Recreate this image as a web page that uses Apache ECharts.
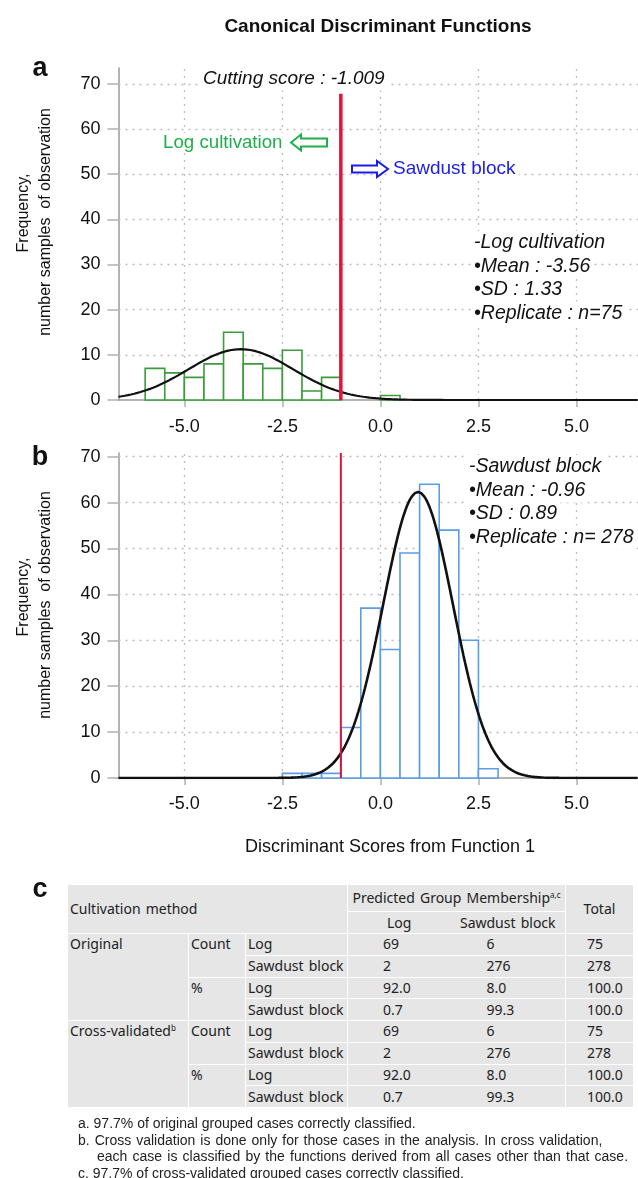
<!DOCTYPE html>
<html><head><meta charset="utf-8">
<script src="https://cdn.jsdelivr.net/npm/echarts@6/dist/echarts.min.js"></script>
<style>
html,body{margin:0;padding:0;background:#fff;width:638px;height:1178px;overflow:hidden;}
#chart{position:absolute;left:0;top:0;width:638px;height:1178px;}
#tbl{position:absolute;left:67px;top:884px;border-collapse:collapse;background:#e6e6e6;font-family:"Noto Sans",sans-serif;font-size:14px;word-spacing:1.5px;color:#222;table-layout:fixed;}
#tbl td{border:1.5px solid #fff;padding:0 0 0 2px;white-space:nowrap;vertical-align:middle;line-height:16px;overflow:visible;}
#tbl td.c5{border-left-style:hidden;}
#tbl td.ctr{text-align:center;padding:0;}
#tbl td.top{vertical-align:top;padding-top:2px;}
#tbl sup{font-size:8px;vertical-align:top;position:relative;top:-3px;word-spacing:0;}
#notes{position:absolute;left:78px;top:1115px;font-family:"Liberation Sans",Arial,sans-serif;font-size:14px;color:#222;line-height:16.7px;}
#notes div{white-space:nowrap;}
#notes div.ind{padding-left:19px;}
</style></head><body>
<div id="chart"></div>
<table id="tbl"></table>
<div id="notes"></div>
<script>
// ---- data ----
const xTicks = [-5.0, -2.5, 0.0, 2.5, 5.0];
const yTicks = [0, 10, 20, 30, 40, 50, 60, 70];
const binWidth = 0.5;
const logBinStart = [-6.0, -5.5, -5.0, -4.5, -4.0, -3.5, -3.0, -2.5, -2.0, -1.5, 0.0];
const logCounts   = [7, 6, 5, 8, 15, 8, 7, 11, 2, 5, 1];
const sawBinStart = [-2.5, -2.0, -1.5, -1.0, -0.5, 0.0, 0.5, 1.0, 1.5, 2.0, 2.5];
const sawCounts   = [1, 1, 1, 11, 37, 28, 49, 64, 54, 30, 2];
// fitted normal curves: [centre, SD, n]
const logFit = [-3.56, 1.33, 75];
const sawFit = [0.96, 0.89, 278];
const cutScore = -1.009;
const cutLineTop = [67.8, 70.8];
const statsLog = ['-Log cultivation', '\u2022Mean : -3.56', '\u2022SD : 1.33', '\u2022Replicate : n=75'];
const statsSaw = ['-Sawdust block', '\u2022Mean : -0.96', '\u2022SD : 0.89', '\u2022Replicate : n= 278'];
// table
const groupNames = ['Original', 'Cross-validated'];
const groupSup = ['', 'b'];
const kindNames = ['Count', '%'];
const rowNames = ['Log', 'Sawdust block'];
const predLog = ['69', '2', '92.0', '0.7', '69', '2', '92.0', '0.7'];
const predSaw = ['6', '276', '8.0', '99.3', '6', '276', '8.0', '99.3'];
const totals  = ['75', '278', '100.0', '100.0', '75', '278', '100.0', '100.0'];
const footnotes = [
  'a. 97.7% of original grouped cases correctly classified.',
  'b. Cross validation is done only for those cases in the analysis. In cross validation,',
  'each case is classified by the functions derived from all cases other than that case.',
  'c. 97.7% of cross-validated grouped cases correctly classified.'
];

// ---- layout ----
const xMin = -6.68, xMax = 6.57;
const yMax = [73.5, 70.8];
const FONT = '"Liberation Sans", Arial, sans-serif';

function curve(fit) {
  const pts = [];
  const k = fit[2] * binWidth / (fit[1] * Math.sqrt(2 * Math.PI));
  for (let x = xMin; x <= xMax + 1e-9; x += 0.04) {
    pts.push([x, k * Math.exp(-Math.pow(x - fit[0], 2) / (2 * fit[1] * fit[1]))]);
  }
  return pts;
}

function bars(starts, counts, color, idx) {
  return {
    type: 'custom', xAxisIndex: idx, yAxisIndex: idx, z: 2,
    data: starts.map((s, i) => [s, counts[i]]),
    renderItem: function (params, api) {
      const x0 = api.value(0), h = api.value(1);
      const p0 = api.coord([x0, h]);
      const p1 = api.coord([x0 + binWidth, 0]);
      return {
        type: 'rect',
        shape: { x: p0[0], y: p0[1], width: p1[0] - p0[0], height: p1[1] - p0[1] },
        style: { fill: '#fff', stroke: color, lineWidth: 1.6 }
      };
    }
  };
}

function gridLines(idx) {
  const segs = xTicks.map(v => ({ coords: [[v, 0], [v, yMax[idx]]] }))
    .concat(yTicks.filter(v => v > 0).map(v => ({ coords: [[xMin, v], [xMax, v]] })));
  return {
    type: 'lines', coordinateSystem: 'cartesian2d', xAxisIndex: idx, yAxisIndex: idx, z: 1, silent: true,
    polyline: false, data: segs,
    lineStyle: { color: '#bdbdbd', type: [2, 5], width: 1.3, opacity: 1 }
  };
}

function xAx(idx) {
  return {
    gridIndex: idx, type: 'value', min: xMin, max: xMax,
    axisLine: { show: true, onZero: false, lineStyle: { color: '#9a9a9a', width: 1.5 } },
    axisTick: { show: true, customValues: xTicks, length: 7, lineStyle: { color: '#b0b0b0', width: 1.5 } },
    axisLabel: { customValues: xTicks, formatter: v => v.toFixed(1), fontSize: 18, color: '#111', fontFamily: FONT, margin: idx === 0 ? 18 : 17 },
    splitLine: { show: false }
  };
}
function yAx(idx) {
  return {
    gridIndex: idx, type: 'value', min: 0, max: yMax[idx],
    axisLine: { show: true, onZero: false, lineStyle: { color: '#9a9a9a', width: 1.5 } },
    axisTick: { show: true, customValues: yTicks, length: 11, lineStyle: { color: '#b0b0b0', width: 1.5 } },
    axisLabel: { customValues: yTicks, fontSize: 18, color: '#111', fontFamily: FONT, margin: 18 },
    splitLine: { show: false }
  };
}

function txt(x, y, text, opts) {
  return { type: 'text', x: x, y: y, z: 10, style: Object.assign({ text: text, fontFamily: FONT, fontSize: 18, fill: '#111', align: 'left', verticalAlign: 'middle' }, opts || {}) };
}
function wtxt(x, y, text, opts) {
  // text on a white box (hides the grid behind it); x is where the glyphs start
  return txt(x - 3, y, text, Object.assign({ backgroundColor: '#fff', padding: [2, 3, 2, 3] }, opts || {}));
}

const graphics = [
  txt(378, 27, 'Canonical Discriminant Functions', { fontSize: 19, fontWeight: 'bold', align: 'center' }),
  txt(40, 69, 'a', { fontSize: 27, fontWeight: 'bold', align: 'center' }),
  txt(40, 458, 'b', { fontSize: 27, fontWeight: 'bold', align: 'center' }),
  txt(40, 890, 'c', { fontSize: 27, fontWeight: 'bold', align: 'center' }),
  wtxt(203, 79, 'Cutting score : -1.009', { fontSize: 19, fontStyle: 'italic' }),
  txt(285.5, 142.5, 'Log cultivation', { fontSize: 18.7, fill: '#1fae4a', align: 'right', backgroundColor: '#fff', padding: [0, 3, 0, 3] }),
  wtxt(393, 169, 'Sawdust block', { fontSize: 19, fill: '#1c1ce8' }),
  { type: 'polygon', z: 10, shape: { points: [[291, 142.5], [301, 134.5], [301, 138.5], [327, 138.5], [327, 146.5], [301, 146.5], [301, 150.5]] }, style: { fill: '#fff', stroke: '#1fae4a', lineWidth: 2 } },
  { type: 'polygon', z: 10, shape: { points: [[352, 165.5], [377, 165.5], [377, 161], [388, 169], [377, 177], [377, 172.5], [352, 172.5]] }, style: { fill: '#fff', stroke: '#1c1ce8', lineWidth: 2 } },
  { type: 'text', x: 23.5, y: 213, rotation: Math.PI / 2, style: { text: 'Frequency,', fontFamily: FONT, fontSize: 16, fill: '#111', align: 'center', verticalAlign: 'middle' } },
  { type: 'text', x: 46, y: 222, rotation: Math.PI / 2, style: { text: 'number samples  of observation', fontFamily: FONT, fontSize: 16, fill: '#111', align: 'center', verticalAlign: 'middle' } },
  { type: 'text', x: 23.5, y: 597, rotation: Math.PI / 2, style: { text: 'Frequency,', fontFamily: FONT, fontSize: 16, fill: '#111', align: 'center', verticalAlign: 'middle' } },
  { type: 'text', x: 46, y: 605, rotation: Math.PI / 2, style: { text: 'number samples  of observation', fontFamily: FONT, fontSize: 16, fill: '#111', align: 'center', verticalAlign: 'middle' } },
  txt(390, 847, 'Discriminant Scores from Function 1', { fontSize: 18, align: 'center' })
];
statsLog.forEach((s, i) => graphics.push(wtxt(474, 243 + i * 23.5, s, { fontSize: 19.5, fontStyle: 'italic' })));
statsSaw.forEach((s, i) => graphics.push(wtxt(469, 467 + i * 23.5, s, { fontSize: 19.5, fontStyle: 'italic' })));

const option = {
  animation: false,
  backgroundColor: '#fff',
  grid: [
    { left: 118.5, top: 68, width: 519.5, height: 332 },
    { left: 118.5, top: 453, width: 519.5, height: 325 }
  ],
  xAxis: [xAx(0), xAx(1)],
  yAxis: [yAx(0), yAx(1)],
  graphic: graphics,
  series: [
    gridLines(0), gridLines(1),
    bars(logBinStart, logCounts, '#3c9c3c', 0),
    bars(sawBinStart, sawCounts, '#5c9ce8', 1),
    { type: 'line', xAxisIndex: 0, yAxisIndex: 0, z: 3, showSymbol: false, data: curve(logFit), lineStyle: { color: '#111', width: 2.2 } },
    { type: 'line', xAxisIndex: 1, yAxisIndex: 1, z: 3, showSymbol: false, data: curve(sawFit), lineStyle: { color: '#111', width: 2.6 } },
    { type: 'line', xAxisIndex: 0, yAxisIndex: 0, z: 4, showSymbol: false, data: [[cutScore, 0], [cutScore, cutLineTop[0]]], lineStyle: { color: '#e0123e', width: 3.5 } },
    { type: 'line', xAxisIndex: 1, yAxisIndex: 1, z: 4, showSymbol: false, data: [[cutScore, 0], [cutScore, cutLineTop[1]]], lineStyle: { color: '#e0123e', width: 2 } }
  ]
};
echarts.init(document.getElementById('chart'), null, { renderer: 'canvas' }).setOption(option);

// ---- table ----
const colW = [121, 57, 102, 103, 115, 68];
let h = '<colgroup>' + colW.map(w => '<col style="width:' + w + 'px">').join('') + '</colgroup>';
h += '<tr style="height:27px"><td colspan="3" rowspan="2">Cultivation method</td><td colspan="2" class="ctr">Predicted Group Membership<sup>a,c</sup></td><td rowspan="2" class="ctr">Total</td></tr>';
h += '<tr style="height:22px"><td class="ctr">' + rowNames[0] + '</td><td class="ctr c5">' + rowNames[1] + '</td></tr>';
for (let r = 0; r < 8; r++) {
  const g = Math.floor(r / 4), k = Math.floor(r / 2) % 2, n = r % 2;
  h += '<tr style="height:21.75px">';
  if (r % 4 === 0) h += '<td rowspan="4" class="top">' + groupNames[g] + (groupSup[g] ? '<sup>' + groupSup[g] + '</sup>' : '') + '</td>';
  if (r % 2 === 0) h += '<td rowspan="2" class="top">' + kindNames[k] + '</td>';
  h += '<td>' + rowNames[n] + '</td>';
  h += '<td style="padding-left:35px">' + predLog[r] + '</td>';
  h += '<td class="c5" style="padding-left:36px">' + predSaw[r] + '</td>';
  h += '<td style="padding-left:21px">' + totals[r] + '</td></tr>';
}
document.getElementById('tbl').innerHTML = h;
const noteSpacing = ['0px', '1.1px', '1.3px', '0px'];
document.getElementById('notes').innerHTML = footnotes.map((t, i) => '<div' + (i === 2 ? ' class="ind"' : '') + ' style="word-spacing:' + noteSpacing[i] + '">' + t + '</div>').join('');
</script>
</body></html>
